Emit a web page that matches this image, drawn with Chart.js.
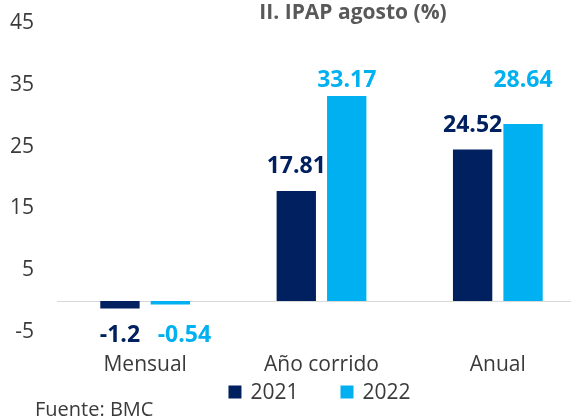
<!DOCTYPE html>
<html>
<head>
<meta charset="utf-8">
<script src="https://cdn.jsdelivr.net/npm/chart.js@4.4.0/dist/chart.umd.min.js"></script>
<style>
html,body{margin:0;padding:0;background:#fff;overflow:hidden;width:571px;height:419px;}
canvas{display:block;}
</style>
</head>
<body>
<canvas id="c" width="586" height="419"></canvas>
<script>
const categories = ['Mensual', 'Año corrido', 'Anual'];
const seriesNames = ['2021', '2022'];
const values2021 = [-1.2, 17.81, 24.52];
const values2022 = [-0.54, 33.17, 28.64];
const yTicks = [-5, 5, 15, 25, 35, 45];

const COL_2021 = '#002060';
const COL_2022 = '#00B0F0';
const TEXT = '#3a3a3a';
const FONT = '"Open Sans", "Noto Sans", sans-serif';

// label offsets in px from the bar end (per dataset, per category), and horizontal nudges
const labelOffsets = [[27, 25, 24], [31, 16, 44]];
const labelDx = [[0, 0, 0], [14, 0, 0]];

const extras = {
  id: 'extras',
  beforeDatasetsDraw(chart) {
    const {ctx, chartArea, scales} = chart;
    const y0 = Math.round(scales.y.getPixelForValue(0)) + 0.5;
    ctx.save();
    ctx.strokeStyle = '#D9D9D9';
    ctx.lineWidth = 1.2;
    ctx.beginPath();
    ctx.moveTo(chartArea.left, y0);
    ctx.lineTo(chartArea.right, y0);
    ctx.stroke();
    ctx.restore();
  },
  afterDatasetsDraw(chart) {
    const {ctx, chartArea} = chart;
    ctx.save();
    // data labels
    ctx.font = 'bold 23px ' + FONT;
    ctx.textAlign = 'center';
    ctx.textBaseline = 'middle';
    chart.data.datasets.forEach((ds, di) => {
      const meta = chart.getDatasetMeta(di);
      ctx.fillStyle = ds.backgroundColor;
      meta.data.forEach((el, i) => {
        const v = ds.data[i];
        const off = labelOffsets[di][i];
        const y = v >= 0 ? el.y - off : el.y + off;
        ctx.fillText(String(v), el.x + labelDx[di][i], y);
      });
    });
    // title
    ctx.font = 'bold 21px ' + FONT;
    ctx.fillStyle = '#595959';
    ctx.textBaseline = 'alphabetic';
    ctx.fillText('II. IPAP agosto (%)', 353, 19);
    // legend
    ctx.font = '21px ' + FONT;
    ctx.textAlign = 'left';
    ctx.textBaseline = 'middle';
    const box = 13, gapText = 9, gapItem = 42;
    const widths = seriesNames.map(n => ctx.measureText(n).width);
    const total = box + gapText + widths[0] + gapItem + box + gapText + widths[1];
    let x = (chartArea.left + chartArea.right) / 2 - total / 2 - 2;
    const ly = 392;
    chart.data.datasets.forEach((ds, di) => {
      ctx.fillStyle = ds.backgroundColor;
      ctx.fillRect(x, ly - box / 2, box, box);
      x += box + gapText;
      ctx.fillStyle = TEXT;
      ctx.fillText(seriesNames[di], x, ly + 1);
      x += widths[di] + gapItem;
    });
    // source
    ctx.font = '20px ' + FONT;
    ctx.fillStyle = TEXT;
    ctx.fillText('Fuente: BMC', 35, 410);
    ctx.restore();
  }
};

new Chart(document.getElementById('c'), {
  type: 'bar',
  data: {
    labels: categories,
    datasets: [
      {label: seriesNames[0], data: values2021, backgroundColor: COL_2021},
      {label: seriesNames[1], data: values2022, backgroundColor: COL_2022}
    ]
  },
  options: {
    responsive: false,
    animation: false,
    devicePixelRatio: 1,
    categoryPercentage: 0.572,
    barPercentage: 0.78,
    layout: {autoPadding: false, padding: {top: 23, left: 10, right: 0, bottom: 44}},
    plugins: {legend: {display: false}, title: {display: false}, tooltip: {enabled: false}},
    scales: {
      x: {
        grid: {display: false, drawTicks: false},
        border: {display: false},
        ticks: {color: TEXT, font: {family: FONT, size: 21}, padding: 20, maxRotation: 0},
        afterFit(scale) { scale.height = 43; scale.paddingLeft = 0; scale.paddingRight = 0; scale.paddingTop = 0; scale.paddingBottom = 0; }
      },
      y: {
        min: yTicks[0],
        max: yTicks[yTicks.length - 1],
        afterBuildTicks(scale) { scale.ticks = yTicks.map(v => ({value: v})); },
        grid: {display: false, drawTicks: false},
        border: {display: false},
        ticks: {color: TEXT, font: {family: FONT, size: 21}, padding: 23},
        afterFit(scale) { scale.width = 47; scale.paddingTop = 0; scale.paddingBottom = 0; scale.paddingLeft = 0; scale.paddingRight = 0; }
      }
    }
  },
  plugins: [extras]
});
</script>
</body>
</html>
